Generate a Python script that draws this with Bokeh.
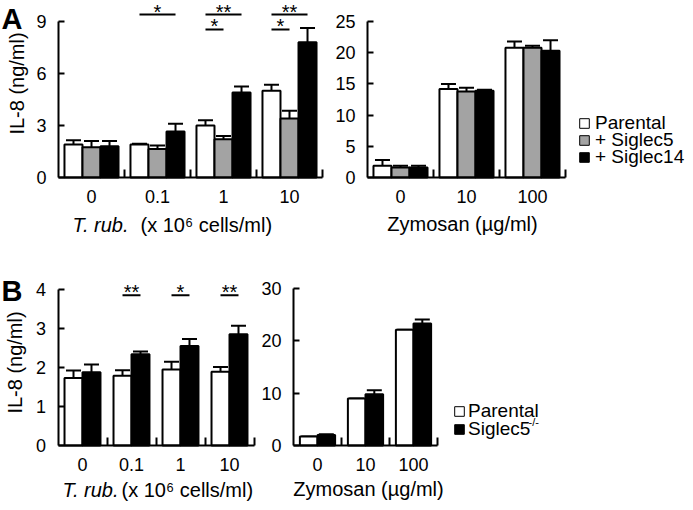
import math
from bokeh.plotting import figure
from bokeh.models import (Range1d, FixedTicker, Whisker, TeeHead, ColumnDataSource,
                          Legend, LegendItem, Label, LinearAxis)
from bokeh.layouts import row, column
from bokeh.embed import file_html
from bokeh.resources import INLINE
from bokeh.core.properties import value

FONT = "Liberation Sans"

# ---------------- data ----------------
# Panel A, T. rub. stimulation (x 10^6 cells/ml)
a_tr_groups = ["0", "0.1", "1", "10"]
a_tr_parental = [1.9, 1.9, 3.0, 5.0]
a_tr_parental_sd = [0.25, 0.05, 0.3, 0.35]
a_tr_siglec5 = [1.75, 1.65, 2.2, 3.4]
a_tr_siglec5_sd = [0.35, 0.2, 0.2, 0.45]
a_tr_siglec14 = [1.8, 2.65, 4.9, 7.8]
a_tr_siglec14_sd = [0.3, 0.45, 0.35, 0.82]

# Panel A, Zymosan (ug/ml)
a_zy_groups = ["0", "10", "100"]
a_zy_parental = [1.9, 14.2, 20.8]
a_zy_parental_sd = [0.9, 0.8, 1.0]
a_zy_siglec5 = [1.6, 13.8, 20.8]
a_zy_siglec5_sd = [0.3, 0.6, 0.3]
a_zy_siglec14 = [1.6, 13.9, 20.3]
a_zy_siglec14_sd = [0.3, 0.15, 1.7]

# Panel B, T. rub.
b_tr_groups = ["0", "0.1", "1", "10"]
b_tr_parental = [1.73, 1.79, 1.95, 1.89]
b_tr_parental_sd = [0.19, 0.14, 0.2, 0.12]
b_tr_ko = [1.88, 2.34, 2.55, 2.85]
b_tr_ko_sd = [0.2, 0.07, 0.18, 0.22]

# Panel B, Zymosan
b_zy_groups = ["0", "10", "100"]
b_zy_parental = [1.7, 9.0, 22.1]
b_zy_parental_sd = [0.0, 0.0, 0.0]
b_zy_ko = [2.0, 9.8, 23.3]
b_zy_ko_sd = [0.15, 0.75, 0.8]

# significance marks (group, compared series index, mark, tier)
a_sig_group = ["0.1", "1", "1", "10", "10"]
a_sig_vs = [2, 2, 1, 2, 1]
a_sig_mark = ["*", "**", "*", "**", "*"]
a_sig_tier = [1, 1, 2, 1, 2]

b_sig_group = ["0.1", "1", "10"]
b_sig_vs = [1, 1, 1]
b_sig_mark = ["**", "*", "**"]
b_sig_tier = [1, 1, 1]

names3 = ["Parental", "+ Siglec5", "+ Siglec14"]
colors3 = ["white", "#a3a3a3", "black"]
names2 = ["Parental", "Siglec5"]
colors2 = ["white", "black"]


def make_fig(width, height, x_ppu, x_left_px, y_ppu, y_zero_px, yticks, n_groups):
    """Figure whose frame fills the whole canvas; axes are drawn at fixed locations."""
    x0 = -0.5 - x_left_px / x_ppu
    y1 = y_zero_px / y_ppu
    p = figure(width=width, height=height, output_backend="svg", toolbar_location=None,
               x_range=Range1d(x0, x0 + width / x_ppu),
               y_range=Range1d(y1 - height / y_ppu, y1),
               x_axis_location=None, y_axis_location=None)
    p.min_border = 0
    p.outline_line_color = None
    p.grid.visible = False
    p.background_fill_color = "white"
    p.border_fill_color = "white"
    xa = LinearAxis(fixed_location=0, bounds=(-0.5, n_groups - 0.5))
    ya = LinearAxis(fixed_location=-0.5, bounds=(0, yticks[-1]))
    for ax in (xa, ya):
        ax.axis_line_width = 2
        ax.axis_line_color = "black"
        ax.major_tick_line_width = 2
        ax.minor_tick_line_width = 2
        ax.major_label_text_font = FONT
        ax.major_label_text_font_size = "18px"
        ax.major_label_text_color = "black"
    ya.ticker = FixedTicker(ticks=yticks)
    ya.major_tick_in = 6
    ya.major_tick_out = 0
    ya.minor_tick_in = 0
    ya.minor_tick_out = 0
    ya.major_label_standoff = 12
    xa.ticker = FixedTicker(ticks=list(range(n_groups)),
                            minor_ticks=[i + 0.5 for i in range(n_groups)])
    xa.major_tick_in = 0
    xa.major_tick_out = 0
    xa.minor_tick_in = 8
    xa.minor_tick_out = 0
    xa.major_label_standoff = 12
    p.add_layout(xa, "below")
    p.add_layout(ya, "left")
    return p, xa


def draw_bars(p, xa, groups, series, sds, colors, bar_w):
    n = len(series)
    proxies = []
    for j, (vals, sd, col) in enumerate(zip(series, sds, colors)):
        off = (j - (n - 1) / 2) * bar_w
        xs = [i + off for i in range(len(groups))]
        src = ColumnDataSource(dict(x=xs, top=vals,
                                    upper=[v + s for v, s in zip(vals, sd)]))
        p.add_layout(Whisker(base="x", lower="top", upper="upper", source=src,
                             line_width=2, line_color="black", lower_head=None,
                             upper_head=TeeHead(size=15, line_width=2, line_color="black")))
        p.vbar(x="x", top="top", width=bar_w, bottom=0, source=src,
               fill_color=col, line_color="black", line_width=2)
        # hidden twin used only as the legend swatch (thin outline)
        proxy = p.vbar(x="x", top="top", width=bar_w, bottom=0, source=src,
                       fill_color=col, line_color="black", line_width=1, visible=False)
        proxies.append(proxy)
    xa.major_label_overrides = {i: g for i, g in enumerate(groups)}
    return proxies


def draw_sig(p, groups, sig_group, sig_vs, sig_mark, sig_tier, n_series, bar_w, tier_y):
    x0s, x1s, ys, xm = [], [], [], []
    for g, vs, t in zip(sig_group, sig_vs, sig_tier):
        gi = groups.index(g)
        a = gi + (0 - (n_series - 1) / 2) * bar_w
        b = gi + (vs - (n_series - 1) / 2) * bar_w
        x0s.append(a)
        x1s.append(b)
        ys.append(tier_y[t])
        xm.append((a + b) / 2)
    src = ColumnDataSource(dict(x0=x0s, x1=x1s, y=ys, xm=xm, t=sig_mark))
    p.segment(x0="x0", y0="y", x1="x1", y1="y", source=src, line_width=2, line_color="black")
    p.text(x="xm", y="y", text="t", source=src, text_align="center",
           text_baseline="alphabetic", y_offset=-3, text_font=value(FONT),
           text_font_size="20px", text_color="black")


def label(p, x, y, text, size="20px", style="normal", align="left", baseline="alphabetic",
          angle=0.0):
    p.add_layout(Label(x=x, y=y, x_units="screen", y_units="screen", text=text,
                       text_font=FONT, text_font_size=size, text_font_style=style,
                       text_align=align, text_baseline=baseline, angle=angle,
                       text_color="black"))


def legend_rows(p, names, proxies, x, ys, standoff):
    for n, r, y in zip(names, proxies, ys):
        p.add_layout(Legend(items=[LegendItem(label=n, renderers=[r])], location=(x, y),
                            orientation="vertical", background_fill_alpha=0,
                            border_line_alpha=0, padding=0, spacing=0, margin=0,
                            glyph_width=12, glyph_height=12, label_standoff=standoff,
                            label_text_font=FONT, label_text_font_size="19px",
                            label_text_color="black", label_height=16,
                            inactive_fill_alpha=0, click_policy="none"))


# ---------------- Panel A ----------------
bwA = 0.273
pA1, xA1 = make_fig(330, 252, 66, 58, 156 / 9, 177, [0, 3, 6, 9], 4)
draw_bars(pA1, xA1, a_tr_groups, [a_tr_parental, a_tr_siglec5, a_tr_siglec14],
          [a_tr_parental_sd, a_tr_siglec5_sd, a_tr_siglec14_sd], colors3, bwA)
draw_sig(pA1, a_tr_groups, a_sig_group, a_sig_vs, a_sig_mark, a_sig_tier, 3, bwA,
         {1: 9.4, 2: 8.54})
label(pA1, 16, 252 - 83, "IL-8 (ng/ml)", align="center", baseline="middle", angle=math.pi / 2)
label(pA1, 72, 28, "T. rub.", style="italic")
label(pA1, 140, 28, "(x 10\u2076 cells/ml)")
label(pA1, 1, 234, "A", size="29px", style="bold")

pA2, xA2 = make_fig(363, 252, 66, 37, 156 / 25, 177, [0, 5, 10, 15, 20, 25], 3)
prA = draw_bars(pA2, xA2, a_zy_groups, [a_zy_parental, a_zy_siglec5, a_zy_siglec14],
                [a_zy_parental_sd, a_zy_siglec5_sd, a_zy_siglec14_sd], colors3, bwA)
label(pA2, 132, 29, "Zymosan (\u00b5g/ml)", align="center")
legend_rows(pA2, names3, prA, 248, [118, 101, 84], 5)

# ---------------- Panel B ----------------
bwB = 0.367
pB1, xB1 = make_fig(258, 254, 49, 57.5, 39, 193, [0, 1, 2, 3, 4], 4)
draw_bars(pB1, xB1, b_tr_groups, [b_tr_parental, b_tr_ko], [b_tr_parental_sd, b_tr_ko_sd],
          colors2, bwB)
draw_sig(pB1, b_tr_groups, b_sig_group, b_sig_vs, b_sig_mark, b_sig_tier, 2, bwB,
         {1: 3.85})
label(pB1, 14, 254 - 110, "IL-8 (ng/ml)", align="center", baseline="middle", angle=math.pi / 2)
label(pB1, 62, 17, "T. rub.", style="italic")
label(pB1, 121, 17, "(x 10\u2076 cells/ml)")
label(pB1, 1, 216, "B", size="29px", style="bold")

pB2, xB2 = make_fig(435, 254, 48, 35, 157 / 30, 193, [0, 10, 20, 30], 3)
prB = draw_bars(pB2, xB2, b_zy_groups, [b_zy_parental, b_zy_ko],
                [b_zy_parental_sd, b_zy_ko_sd], colors2, bwB)
label(pB2, 110, 18, "Zymosan (\u00b5g/ml)", align="center")
legend_rows(pB2, names2, prB, 195, [84, 66], 3)
label(pB2, 270, 91, "-/-", size="11px", baseline="top")

layout = column(row(pA1, pA2), row(pB1, pB2))
open("out.html", "w").write(file_html(layout, INLINE))
